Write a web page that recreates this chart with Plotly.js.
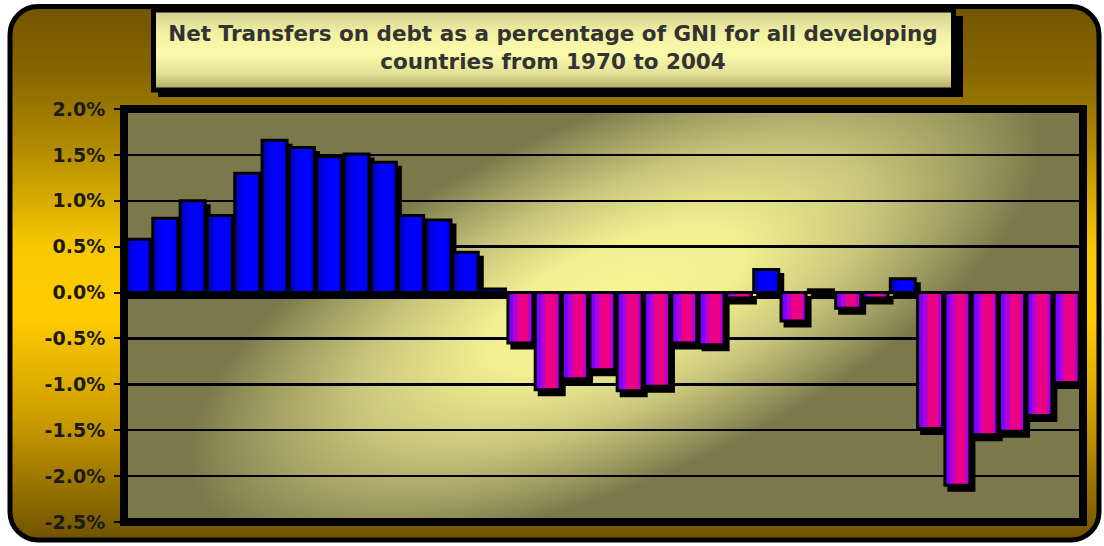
<!DOCTYPE html>
<html>
<head>
<meta charset="utf-8">
<script src="https://cdn.plot.ly/plotly-3.0.1.min.js"></script>
<style>
html,body{margin:0;padding:0;background:#ffffff;}
#chart{width:1104px;height:546px;}
</style>
</head>
<body>
<div id="chart"></div>
<script>
// ---- data ----
const years = [1970,1971,1972,1973,1974,1975,1976,1977,1978,1979,
               1980,1981,1982,1983,1984,1985,1986,1987,1988,1989,
               1990,1991,1992,1993,1994,1995,1996,1997,1998,1999,
               2000,2001,2002,2003,2004];
const netTransfers = [0.58,0.81,1.00,0.84,1.30,1.66,1.58,1.48,1.51,1.42,
                      0.84,0.79,0.44,0.04,-0.55,-1.06,-0.94,-0.84,-1.07,-1.02,
                      -0.55,-0.57,-0.06,0.25,-0.31,0.03,-0.17,-0.06,0.15,-1.48,
                      -2.10,-1.55,-1.51,-1.34,-0.98];
const tickValues = [2.0,1.5,1.0,0.5,0.0,-0.5,-1.0,-1.5,-2.0,-2.5];
const tickLabels = tickValues.map(v => v.toFixed(1) + '%');
const chartTitle = 'Net Transfers on debt as a percentage of GNI for all developing<br>countries from 1970 to 2004';

// ---- geometry (pixels) ----
const W = 1104, H = 546;
const L = 124, R = 24, T = 109, B = 24;
const PW = W - L - R, PH = H - T - B;
const slot = PW / years.length;
const pxX = p => p / slot;          // px -> x data units
const pxY = p => p * 4.5 / PH;      // px -> y data units
const barW = pxX(25);
const barOff = -0.5 + pxX(1.5);

// ---- background art (gradients) ----
const svg = `<svg xmlns='http://www.w3.org/2000/svg' width='${W}' height='${H}' viewBox='0 0 ${W} ${H}'>
<defs>
<linearGradient id='g' x1='0' y1='0' x2='0' y2='1'>
<stop offset='0' stop-color='#735500'/><stop offset='0.12' stop-color='#866500'/>
<stop offset='0.26' stop-color='#b08a00'/><stop offset='0.45' stop-color='#f8c800'/>
<stop offset='0.58' stop-color='#ffcc00'/><stop offset='0.76' stop-color='#d0a000'/>
<stop offset='1' stop-color='#6f5200'/></linearGradient>
<linearGradient id='t' x1='0' y1='0' x2='0' y2='1'>
<stop offset='0' stop-color='#cfcd8c'/><stop offset='0.3' stop-color='#f3f2a4'/>
<stop offset='0.55' stop-color='#fbfaac'/><stop offset='0.8' stop-color='#e2e096'/>
<stop offset='1' stop-color='#a9a763'/></linearGradient>
<radialGradient id='p' gradientUnits='userSpaceOnUse' cx='0' cy='0' r='1' gradientTransform='translate(615 300) rotate(-24) scale(460 180)'>
<stop offset='0' stop-color='#f7f594'/><stop offset='0.3' stop-color='#f1ef90'/>
<stop offset='0.6' stop-color='#c9c67c'/><stop offset='0.85' stop-color='#9a985e'/>
<stop offset='1' stop-color='#7b794b'/></radialGradient>
</defs>
<rect x='10' y='6.5' width='1089' height='533.5' rx='28' ry='28' fill='url(#g)' stroke='#000' stroke-width='5'/>
<rect x='158' y='16' width='805' height='81' fill='#000'/>
<rect x='153.5' y='10' width='800' height='80' fill='url(#t)' stroke='#000' stroke-width='5'/>
<rect x='${L}' y='${T}' width='${PW+3}' height='${PH}' fill='url(#p)'/>
</svg>`;
const bgSource = 'data:image/svg+xml;charset=utf-8,' + encodeURIComponent(svg);

// ---- colours per bar ----
const isNeg = v => v < 0;
const baseCol = netTransfers.map(v => isNeg(v) ? '#7a00ff' : '#0000c8');
const midCol  = netTransfers.map(v => isNeg(v) ? '#b400d4' : '#0000f0');
const hiCol   = netTransfers.map(v => isNeg(v) ? '#ec0084' : '#0000ff');

const common = {type:'bar', x: years, y: netTransfers, hoverinfo:'skip'};
const traces = [
  Object.assign({}, common, {
    base: -pxY(5), width: barW, offset: barOff + pxX(4),
    marker:{color:'#000', line:{color:'#000', width:3}}
  }),
  Object.assign({}, common, {
    width: barW, offset: barOff,
    marker:{color: baseCol, line:{width:0}}
  }),
  Object.assign({}, common, {
    width: barW*0.72, offset: barOff + barW*0.22,
    marker:{color: midCol, line:{width:0}}
  }),
  Object.assign({}, common, {
    width: barW*0.42, offset: barOff + barW*0.40,
    marker:{color: hiCol, line:{width:0}}
  }),
  Object.assign({}, common, {
    width: barW, offset: barOff,
    marker:{color:'rgba(0,0,0,0)', line:{color:'#000', width:3}}
  })
];

const layout = {
  width: W, height: H,
  margin: {l: L, r: R, t: T, b: B, pad: 0},
  paper_bgcolor: '#ffffff',
  plot_bgcolor: 'rgba(0,0,0,0)',
  barmode: 'overlay',
  bargap: 0,
  showlegend: false,
  title: {
    text: chartTitle,
    x: 553 / W, xanchor: 'center',
    y: 1 - 41 / H, yanchor: 'middle',
    font: {family: 'DejaVu Sans', size: 21.5, weight: 700, color: '#333333'}
  },
  xaxis: {
    range: [years[0] - 0.5, years[years.length-1] + 0.5],
    showticklabels: false, ticks: '', showgrid: false, zeroline: false, showline: false, fixedrange: true
  },
  yaxis: {
    range: [-2.5, 2.0],
    tickvals: tickValues, ticktext: tickLabels,
    ticks: 'outside', ticklen: 9, tickwidth: 2, tickcolor: '#000',
    ticklabelstandoff: 5,
    tickfont: {family: 'DejaVu Sans', size: 19, weight: 700, color: '#1a1a1a'},
    showgrid: true, gridcolor: '#000', gridwidth: 2.5,
    zeroline: true, zerolinecolor: '#000', zerolinewidth: 2.5,
    showline: false, fixedrange: true
  },
  images: [{
    source: bgSource, xref: 'paper', yref: 'paper',
    x: -L / PW, y: 1 + T / PH, sizex: W / PW, sizey: H / PH,
    xanchor: 'left', yanchor: 'top', sizing: 'stretch', layer: 'below'
  }],
  shapes: [{
    type: 'rect', xref: 'paper', yref: 'paper', layer: 'above',
    x0: 0, x1: 1 + 3 / PW, y0: 0, y1: 1,
    line: {color: '#000', width: 8}, fillcolor: 'rgba(0,0,0,0)'
  }]
};

Plotly.newPlot('chart', traces, layout, {staticPlot: true, displayModeBar: false});
</script>
</body>
</html>
